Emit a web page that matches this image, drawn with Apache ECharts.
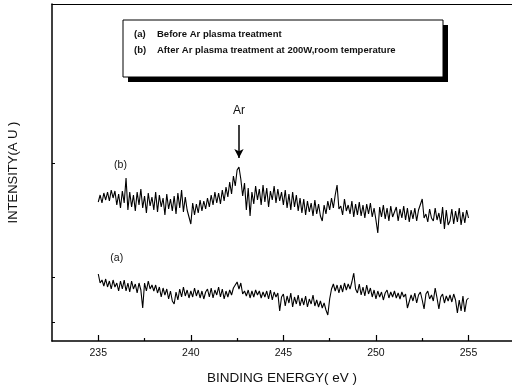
<!DOCTYPE html>
<html>
<head>
<meta charset="utf-8">
<script src="https://cdn.jsdelivr.net/npm/echarts@6/dist/echarts.min.js"></script>
<style>html,body{margin:0;padding:0;background:#fff;}#c{width:512px;height:389px;}</style>
</head>
<body>
<div id="c"></div>
<script>
// Binding energy grid (eV), 0.1 eV step from 235.0 to 255.0
const energyStart = 235.0;
const energyStep = 0.1;
// (b) After Ar plasma treatment (arbitrary units)
const traceB = [
139,146,138,148,141,149,140,151,143,150,
136,147,133,150,138,163,131,149,134,146,
130,149,136,152,133,145,128,148,135,144,
131,149,129,146,134,143,126,147,132,142,
130,145,127,148,133,151,129,144,131,124,
117,138,126,137,128,141,130,140,132,143,
134,146,136,149,138,148,137,151,140,154,
144,159,147,165,155,171,174,162,145,158,
131,153,125,149,137,155,141,152,136,156,
139,153,134,150,141,155,138,152,140,149,
136,151,133,147,131,149,134,146,130,143,
128,142,126,140,129,138,125,141,127,137,
125,120,136,127,140,131,143,133,146,156,
132,135,126,142,130,136,127,140,124,137,
126,139,125,136,123,137,127,138,124,133,
121,108,134,124,136,122,133,120,135,124,
122,134,120,132,123,135,121,133,119,131,
122,133,120,131,129,142,123,127,119,132,
123,120,133,121,128,117,134,112,131,116,
120,132,117,130,119,133,116,129,118,131,
123
];
// (a) Before Ar plasma treatment (arbitrary units)
const traceA = [
67,58,61,55,62,54,60,52,61,54,
58,50,60,52,61,50,58,49,60,52,
57,48,58,51,33,58,50,60,52,56,
50,56,48,54,44,53,46,52,42,50,
40,37,49,41,52,44,54,45,51,43,
50,44,53,45,51,43,50,42,49,52,
44,53,43,51,46,54,44,52,42,50,
44,51,46,53,56,59,52,58,47,50,
45,51,43,50,44,51,46,50,43,49,
44,50,42,51,41,49,44,48,30,44,
47,35,45,38,48,34,44,37,46,35,
43,36,45,34,42,37,46,35,41,34,
40,33,38,31,26,42,52,57,50,56,
48,56,49,58,51,57,52,59,68,52,
48,57,46,54,45,56,47,53,44,51,
42,50,44,49,41,48,51,43,49,44,
50,43,48,42,49,44,47,33,35,46,
40,48,38,46,49,41,32,47,50,42,
46,40,53,43,32,44,47,38,45,40,
46,39,47,41,28,41,30,45,29,41,
43
];
const majorTicks = [235, 240, 245, 250, 255];
const minorTicks = [237.5, 242.5, 247.5, 252.5];
const yTicks = [19, 64, 178];
const legendLines = ['(a)', 'Before Ar plasma treatment', '(b)', 'After Ar plasma treatment at 200W,room temperature'];
const peakEnergy = 242.6;

function toPairs(arr) {
  return arr.map((v, i) => [+(energyStart + i * energyStep).toFixed(1), v]);
}

const FONT = 'Liberation Sans, Arial, sans-serif';
const chart = echarts.init(document.getElementById('c'), null, {renderer: 'canvas'});
const xMin = 232.5, xMax = 257.35;

chart.setOption({
  animation: false,
  backgroundColor: '#fff',
  grid: {left: 52, top: 4, right: 0, bottom: 48, containLabel: false, outerBoundsMode: 'none'},
  xAxis: [
    {
      type: 'value', min: xMin, max: xMax, position: 'bottom',
      name: 'BINDING ENERGY( eV )', nameLocation: 'middle', nameGap: 30,
      nameTextStyle: {fontFamily: FONT, fontSize: 13.5, color: '#111'},
      axisLine: {lineStyle: {color: '#000', width: 1.5}},
      axisTick: {show: true, inside: true, length: 6, customValues: majorTicks, lineStyle: {color: '#000', width: 1.2}},
      axisLabel: {customValues: majorTicks, fontFamily: FONT, fontSize: 10.5, color: '#111', margin: 7},
      splitLine: {show: false}
    },
    {
      type: 'value', min: xMin, max: xMax, position: 'bottom',
      axisLine: {show: false},
      axisTick: {show: true, inside: true, length: 3, customValues: minorTicks, lineStyle: {color: '#000', width: 1.2}},
      axisLabel: {show: false},
      splitLine: {show: false}
    },
    {
      type: 'value', min: xMin, max: xMax, position: 'top',
      axisLine: {show: true, lineStyle: {color: '#000', width: 1.2}},
      axisTick: {show: false}, axisLabel: {show: false}, splitLine: {show: false}
    }
  ],
  yAxis: {
    type: 'value', min: 0, max: 337,
    name: 'INTENSITY(A U )', nameLocation: 'middle', nameGap: 32,
    nameTextStyle: {fontFamily: FONT, fontSize: 13, color: '#111'},
    axisLine: {show: true, lineStyle: {color: '#000', width: 1.5}},
    axisTick: {show: true, inside: true, length: 3, customValues: yTicks, lineStyle: {color: '#000'}},
    axisLabel: {show: false},
    splitLine: {show: false}
  },
  series: [
    {
      type: 'line', name: '(b)', data: toPairs(traceB), showSymbol: false,
      lineStyle: {color: '#000', width: 1.1},
      markLine: {
        silent: true, symbol: ['none', 'arrow'], symbolSize: [7, 9],
        lineStyle: {color: '#000', width: 1.5, type: 'solid'},
        label: {show: true, position: 'start', formatter: 'Ar', fontFamily: FONT, fontSize: 12, color: '#111', distance: 8},
        data: [[{coord: [peakEnergy, 216]}, {coord: [peakEnergy, 183]}]]
      },
      markPoint: {
        symbol: 'circle', symbolSize: 0,
        label: {show: true, formatter: '(b)', fontFamily: FONT, fontSize: 10.5, color: '#111'},
        data: [{coord: [236.2, 176]}]
      }
    },
    {
      type: 'line', name: '(a)', data: toPairs(traceA), showSymbol: false,
      lineStyle: {color: '#000', width: 1.1},
      markPoint: {
        symbol: 'circle', symbolSize: 0,
        label: {show: true, formatter: '(a)', fontFamily: FONT, fontSize: 10.5, color: '#111'},
        data: [{coord: [236.0, 83]}]
      }
    }
  ],
  graphic: [
    {type: 'rect', shape: {x: 128, y: 25, width: 320, height: 57}, style: {fill: '#000'}, z: 10},
    {type: 'rect', shape: {x: 123, y: 20, width: 320, height: 57}, style: {fill: '#fff', stroke: '#000', lineWidth: 1}, z: 11},
    {type: 'text', x: 134, y: 29, style: {text: legendLines[0], font: 'bold 9.5px ' + FONT, fill: '#111'}, z: 12},
    {type: 'text', x: 157, y: 29, style: {text: legendLines[1], font: 'bold 9.5px ' + FONT, fill: '#111'}, z: 12},
    {type: 'text', x: 134, y: 45, style: {text: legendLines[2], font: 'bold 9.5px ' + FONT, fill: '#111'}, z: 12},
    {type: 'text', x: 157, y: 45, style: {text: legendLines[3], font: 'bold 9.5px ' + FONT, fill: '#111'}, z: 12}
  ]
});
</script>
</body>
</html>
